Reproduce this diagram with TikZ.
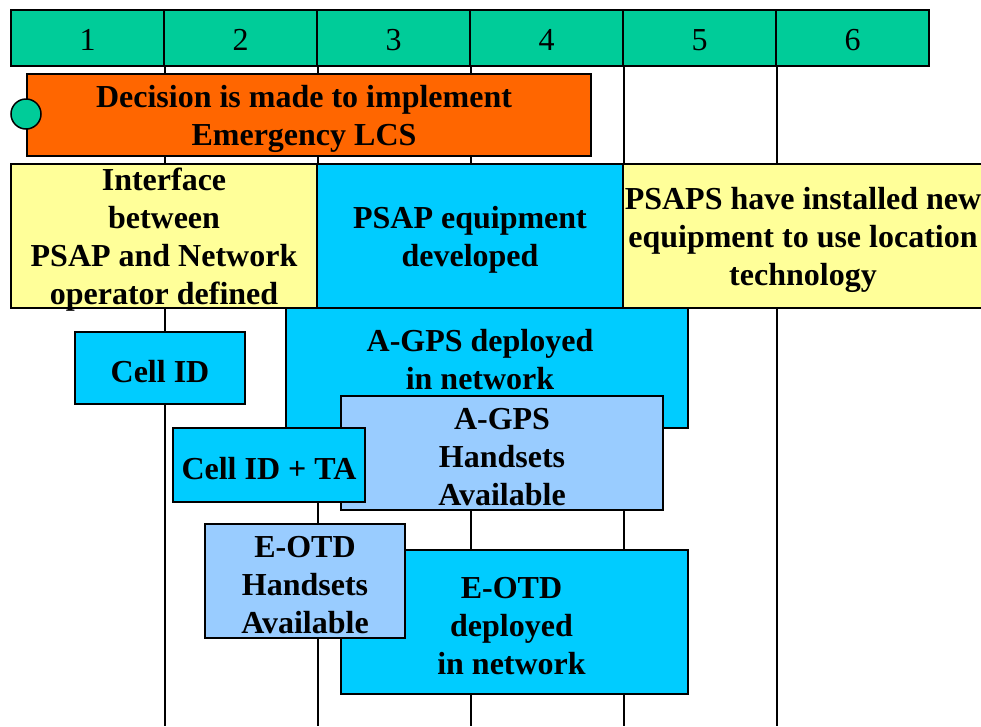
\documentclass[tikz,border=0pt]{standalone}
\usepackage{fontspec}
\setmainfont{Liberation Serif}
\usepackage{tikz}

\definecolor{hdgreen}{HTML}{00CC99}
\definecolor{decorange}{HTML}{FF6600}
\definecolor{ifyellow}{HTML}{FFFF99}
\definecolor{devblue}{HTML}{00CCFF}
\definecolor{hsblue}{HTML}{99CCFF}

\begin{document}
\begin{tikzpicture}[x=1pt,y=-1pt]
                \tikzset{cell/.style = {draw, line width=1.5pt, fill=hdgreen, minimum width=153pt, minimum height=56pt, inner sep=0pt}}
                \tikzset{num/.style = {inner sep=0pt, yshift=-2pt, font=\fontsize{32}{38}\selectfont}}
                \tikzset{stage/.style = {draw, line width=1.5pt, inner sep=0pt}}
                \tikzset{txt/.style = {inner sep=0pt, align=center, yshift=-4pt, font=\fontsize{32}{38}\selectfont\bfseries}}
                \tikzset{grid/.style = {line width=1.5pt}}
                \clip (0,0) rectangle (981,726);
                % header
                \node[cell, label={[num]center:1}] (h1) at (87.5,38) {};
                \node[cell, label={[num]center:2}] (h2) at (240.5,38) {};
                \node[cell, label={[num]center:3}] (h3) at (393.5,38) {};
                \node[cell, label={[num]center:4}] (h4) at (546.5,38) {};
                \node[cell, label={[num]center:5}] (h5) at (699.5,38) {};
                \node[cell, label={[num]center:6}] (h6) at (852.5,38) {};
                \coordinate (bot) at (0,726);

                % grid lines
                \draw[grid] (h1.south east) -- (h1.south east |- bot);
                \draw[grid] (h2.south east) -- (h2.south east |- bot);
                \draw[grid] (h3.south east) -- (h3.south east |- bot);
                \draw[grid] (h4.south east) -- (h4.south east |- bot);
                \draw[grid] (h5.south east) -- (h5.south east |- bot);

                % stages
                \node[stage, fill=decorange, minimum width=564pt, minimum height=82pt,
                      label={[txt, xshift=-5pt]center:{Decision is made to implement\\Emergency LCS}}] (decision) at (309,115) {};
                \node[stage, fill=hdgreen, circle, minimum size=30pt] (start) at (26,114) {};
                \node[stage, fill=ifyellow, minimum width=306pt, minimum height=144pt,
                      label={[txt]center:{Interface\\between\\PSAP and Network\\operator defined}}] (iface) at (164,236) {};
                \node[stage, fill=devblue, minimum width=306pt, minimum height=144pt,
                      label={[txt]center:{PSAP equipment\\developed}}] (psapdev) at (470,236) {};
                \node[stage, fill=ifyellow, minimum width=360pt, minimum height=144pt,
                      label={[txt]center:{PSAPS have installed new\\equipment to use location\\technology}}] (psaps) at (803,236) {};

                % location methods
                \node[stage, fill=devblue, minimum width=402pt, minimum height=120pt,
                      label={[txt, xshift=-7pt, yshift=12pt]center:{A-GPS deployed\\in network}}] (agpsnet) at (487,368) {};
                \node[stage, fill=devblue, minimum width=170pt, minimum height=72pt,
                      label={[txt]center:{Cell ID}}] (cellid) at (160,368) {};
                \node[stage, fill=hsblue, minimum width=322pt, minimum height=114pt,
                      label={[txt]center:{A-GPS\\Handsets\\Available}}] (agpshs) at (502,453) {};
                \node[stage, fill=devblue, minimum width=192pt, minimum height=74pt,
                      label={[txt]center:{Cell ID + TA}}] (cellidta) at (269,465) {};
                \node[stage, fill=devblue, minimum width=347pt, minimum height=144pt,
                      label={[txt, xshift=-3pt]center:{E-OTD\\deployed\\in network}}] (eotdnet) at (514.5,622) {};
                \node[stage, fill=hsblue, minimum width=200pt, minimum height=114pt,
                      label={[txt]center:{E-OTD\\Handsets\\Available}}] (eotdhs) at (305,581) {};
            \end{tikzpicture}
\end{document}
